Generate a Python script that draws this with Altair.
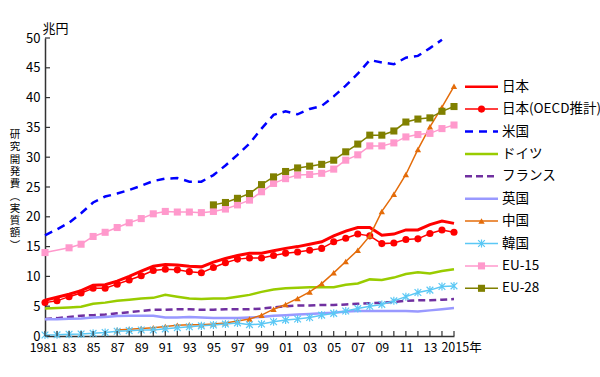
import altair as alt
import pandas as pd

FONT = "Noto Sans CJK JP"

years = list(range(1981, 2016))
series_names = ["日本", "日本(OECD推計)", "米国", "ドイツ", "フランス", "英国", "中国", "韓国", "EU-15", "EU-28"]

japan = [6.0, 6.5, 7.0, 7.6, 8.5, 8.6, 9.2, 10.0, 10.9, 11.7, 12.0, 11.9, 11.7, 11.6, 12.4,
         13.0, 13.5, 13.9, 13.9, 14.3, 14.7, 15.0, 15.4, 15.8, 16.8, 17.6, 18.2, 18.2, 16.9, 17.1,
         17.8, 17.8, 18.7, 19.3, 18.9]
japan_oecd = [5.6, 5.9, 6.6, 7.2, 8.0, 8.0, 8.7, 9.4, 10.1, 11.0, 11.2, 11.1, 10.8, 10.6, 11.5,
              12.3, 12.9, 13.1, 13.1, 13.5, 13.9, 14.1, 14.4, 14.7, 15.8, 16.4, 17.1, 16.8, 15.5, 15.6,
              16.2, 16.3, 17.2, 17.8, 17.4]
usa = [16.9, 17.9, 19.0, 20.6, 22.4, 23.4, 23.9, 24.5, 25.2, 26.0, 26.4, 26.5, 25.9, 25.9, 27.0,
       28.6, 30.4, 32.3, 34.8, 37.1, 37.7, 37.2, 38.1, 38.6, 40.2, 42.0, 44.0, 46.3, 45.9, 45.6,
       46.7, 47.0, 48.3, 49.7, None]
germany = [4.6, 4.7, 4.8, 4.9, 5.4, 5.6, 5.9, 6.1, 6.3, 6.4, 6.9, 6.6, 6.3, 6.2, 6.3,
           6.3, 6.6, 6.9, 7.4, 7.8, 8.0, 8.1, 8.2, 8.2, 8.2, 8.6, 8.8, 9.5, 9.4, 9.8,
           10.4, 10.7, 10.5, 10.9, 11.2]
france = [2.85, 3.0, 3.2, 3.4, 3.5, 3.6, 3.8, 4.0, 4.2, 4.4, 4.4, 4.5, 4.5, 4.4, 4.4,
          4.5, 4.5, 4.5, 4.6, 4.8, 5.0, 5.1, 5.1, 5.2, 5.2, 5.3, 5.4, 5.5, 5.6, 5.7,
          5.9, 6.0, 6.0, 6.1, 6.2]
uk = [2.8, 2.8, 2.9, 2.95, 3.1, 3.2, 3.35, 3.4, 3.4, 3.4, 3.1, 3.1, 3.2, 3.1, 3.0,
      3.0, 3.0, 3.1, 3.2, 3.4, 3.5, 3.6, 3.7, 3.8, 3.9, 4.1, 4.2, 4.2, 4.2, 4.2,
      4.2, 4.1, 4.3, 4.5, 4.7]
china = [None, None, None, None, None, None, 1.0, 1.15, 1.25, 1.4, 1.6, 1.8, 1.9, 1.9, 2.0,
         2.2, 2.5, 2.85, 3.5, 4.5, 5.3, 6.3, 7.4, 8.8, 10.6, 12.5, 14.4, 16.8, 20.9, 23.8,
         27.1, 31.3, 35.1, 38.4, 41.9]
korea = [0.17, 0.2, 0.3, 0.35, 0.45, 0.6, 0.8, 0.9, 1.0, 1.0, 1.2, 1.4, 1.55, 1.7, 1.85,
         2.0, 2.2, 1.9, 2.0, 2.4, 2.7, 2.85, 3.1, 3.5, 3.8, 4.2, 4.6, 5.0, 5.3, 5.9,
         6.6, 7.3, 7.7, 8.3, 8.4]
eu15 = [14.0, None, 14.8, 15.4, 16.7, 17.4, 18.2, 19.0, 19.7, 20.5, 20.9, 20.8, 20.8, 20.7, 20.9,
        21.3, 22.0, 22.8, 24.2, 25.6, 26.4, 27.0, 27.1, 27.3, 28.0, 29.5, 30.4, 31.9, 31.9, 32.4,
        33.4, 33.8, 34.0, 34.8, 35.4]
eu28 = [None] * 14 + [22.0, 22.4, 23.1, 23.9, 25.4, 26.7, 27.6, 28.2, 28.5, 28.8, 29.5, 30.9,
                      32.2, 33.7, 33.7, 34.4, 35.9, 36.4, 36.6, 37.7, 38.5]

y_tick_values = list(range(0, 51, 5))
y_title_chars = ["研", "究", "開", "発", "費", "︵", "実", "質", "額", "︶"]

all_values = [japan, japan_oecd, usa, germany, france, uk, china, korea, eu15, eu28]

rows = []
for name, vals in zip(series_names, all_values):
    for yr, v in zip(years, vals):
        if v is not None:
            rows.append({"series": name, "year": yr, "value": v})
df = pd.DataFrame(rows)

ASTER = "M-1,-1L1,1M1,-1L-1,1M0,-1.2L0,1.2"
styles = {
    "日本": dict(color="#FF0000", width=3.0, dash=None, shape=None),
    "日本(OECD推計)": dict(color="#FF0000", width=1.5, dash=None, shape="circle"),
    "米国": dict(color="#0000FF", width=2.5, dash=[8, 6], shape=None),
    "ドイツ": dict(color="#99CC00", width=2.5, dash=None, shape=None),
    "フランス": dict(color="#7030A0", width=2.5, dash=[7, 4], shape=None),
    "英国": dict(color="#9999FF", width=2.5, dash=None, shape=None),
    "中国": dict(color="#E46C0A", width=1.5, dash=None, shape="triangle-up"),
    "韓国": dict(color="#5BC8F5", width=1.5, dash=None, shape=ASTER),
    "EU-15": dict(color="#FF99CC", width=1.5, dash=None, shape="square"),
    "EU-28": dict(color="#808000", width=1.5, dash=None, shape="square"),
}

W, H = 409, 298

xscale = alt.Scale(domain=[1981, 2015], nice=False, zero=False)
yscale = alt.Scale(domain=[0, 50], nice=False)

xaxis = alt.Axis(
    values=years, ticks=False, grid=False, title=None,
    labelExpr="datum.value == 1981 ? '1981' : datum.value == 2015 ? '2015年' : "
              "(datum.value % 2 == 1 ? substring(toString(datum.value), 2, 4) : '')",
    labelOverlap=False, labelFlush=False, labelPadding=5, labelFontSize=12.5,
    labelOffset=alt.ExprRef(expr="datum.value == 2015 ? 7 : datum.value == 1981 ? -2 : 0"),
)
yaxis = alt.Axis(
    values=y_tick_values, ticks=False, grid=False, labelPadding=5,
    title="兆円", titleAngle=0, titleAlign="left", titleBaseline="alphabetic",
    titleX=-3, titleY=-6,
)

X = alt.X("year:Q", scale=xscale, axis=xaxis)
Y = alt.Y("value:Q", scale=yscale, axis=yaxis)

layers = []
for name in series_names:
    st = styles[name]
    sub = df[df.series == name]
    line_kw = dict(color=st["color"], strokeWidth=st["width"])
    if st["dash"]:
        line_kw["strokeDash"] = st["dash"]
    layers.append(alt.Chart(sub).mark_line(**line_kw).encode(x=X, y=Y))
    if st["shape"]:
        if name == "韓国":
            pt = alt.Chart(sub).mark_point(shape=st["shape"], filled=False, stroke=st["color"],
                                           strokeWidth=1.2, size=45, opacity=1)
        else:
            pt = alt.Chart(sub).mark_point(shape=st["shape"], filled=True, color=st["color"],
                                           size=50 if st["shape"] != "triangle-up" else 40, opacity=1)
        layers.append(pt.encode(x=X, y=Y))

# inward ticks
ytick_df = pd.DataFrame({"value": y_tick_values})
layers.append(alt.Chart(ytick_df).mark_rule(color="#333333", strokeWidth=1.2).encode(
    y=Y, x=alt.value(0), x2=alt.value(5)))
xtick_df = pd.DataFrame({"year": years})
layers.append(alt.Chart(xtick_df).mark_rule(color="#333333", strokeWidth=1.2).encode(
    x=X, y=alt.value(H), y2=alt.value(H - 5)))

# vertical y title
layers.append(alt.Chart(alt.Data(values=[{}])).mark_text(
    text=y_title_chars, font=FONT, fontSize=10.5, lineHeight=12.3, align="center",
    baseline="top", color="#000000").encode(x=alt.value(-30), y=alt.value(92)))

# legend
LX0, LX1, LXM, LXT = 420, 453, 436.5, 457
for i, name in enumerate(series_names):
    st = styles[name]
    ly = 48.7 + i * 22.4
    rule_kw = dict(color=st["color"], strokeWidth=min(st["width"], 2.5) if st["shape"] is None else 1.5)
    if st["dash"]:
        rule_kw["strokeDash"] = st["dash"]
    one = alt.Chart(alt.Data(values=[{}]))
    layers.append(one.mark_rule(**rule_kw).encode(
        x=alt.value(LX0), x2=alt.value(LX1), y=alt.value(ly)))
    if st["shape"]:
        if name == "韓国":
            mk = one.mark_point(shape=st["shape"], filled=False, stroke=st["color"],
                                strokeWidth=1.2, size=45, opacity=1)
        else:
            mk = one.mark_point(shape=st["shape"], filled=True, color=st["color"],
                                size=50 if st["shape"] != "triangle-up" else 40, opacity=1)
        layers.append(mk.encode(x=alt.value(LXM), y=alt.value(ly)))
    layers.append(one.mark_text(text=name, font=FONT, fontSize=13.5, align="left",
                                baseline="middle", color="#000000").encode(
        x=alt.value(LXT), y=alt.value(ly)))

chart = alt.layer(*layers).properties(
    width=W, height=H,
    autosize=alt.AutoSizeParams(type="none"),
    padding={"left": 45, "top": 38, "right": 146, "bottom": 41},
    background="white",
).configure_view(stroke=None).configure_axis(
    labelFont=FONT, titleFont=FONT, labelFontSize=13, titleFontSize=13,
    labelColor="#000000", titleColor="#000000", titleFontWeight="normal",
    domainColor="#333333", domainWidth=1.5,
)

chart.save("out.html", embed_options={"renderer": "svg", "actions": False})
